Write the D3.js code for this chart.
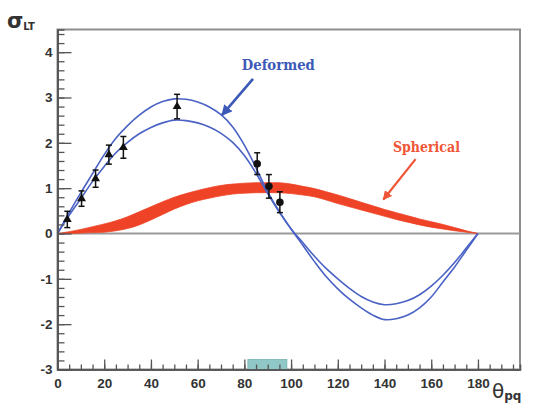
<!DOCTYPE html>
<html>
<head>
<meta charset="utf-8">
<script src="https://cdn.jsdelivr.net/npm/d3@7"></script>
<style>
  html, body { margin: 0; padding: 0; background: #ffffff; }
  svg { display: block; }
  .tick text { font-family: "Liberation Sans", Arial, sans-serif; font-weight: bold; font-size: 13.5px; fill: #333; }
</style>
</head>
<body>
<svg id="chart" width="540" height="405"></svg>
<script>
// Polar angle grid (degrees) shared by the model curves
const theta = [0,5,10,15,20,25,30,35,40,45,50,55,60,65,70,75,80,85,90,
               95,100,105,110,115,120,125,130,135,140,145,150,155,160,165,170,175,180];

// Deformed-nucleus model: two bounding curves
const deformedOuter = [0,0.46,0.90,1.32,1.74,2.10,2.38,2.61,2.79,2.91,2.97,2.96,2.90,2.79,2.62,2.35,1.95,1.45,0.92,
                       0.48,0.10,-0.26,-0.62,-0.95,-1.22,-1.45,-1.64,-1.80,-1.90,-1.88,-1.80,-1.64,-1.40,-1.07,-0.74,-0.37,0];
const deformedInner = [0,0.40,0.77,1.15,1.48,1.78,2.01,2.20,2.34,2.44,2.50,2.49,2.44,2.35,2.21,2.01,1.72,1.33,0.88,
                       0.47,0.10,-0.20,-0.50,-0.77,-1.00,-1.21,-1.39,-1.51,-1.57,-1.55,-1.48,-1.35,-1.16,-0.92,-0.64,-0.32,0];

// Spherical-nucleus model band: upper and lower edges
const sphericalHigh = [0,0.04,0.09,0.15,0.21,0.28,0.37,0.48,0.59,0.70,0.80,0.88,0.95,1.01,1.06,1.09,1.11,1.12,1.12,
                       1.12,1.09,1.04,0.99,0.92,0.85,0.77,0.69,0.61,0.53,0.46,0.39,0.32,0.26,0.20,0.13,0.06,0];
const sphericalLow  = [0,0.00,0.01,0.02,0.03,0.06,0.11,0.19,0.30,0.42,0.54,0.64,0.72,0.78,0.83,0.87,0.89,0.90,0.90,
                       0.90,0.88,0.85,0.81,0.74,0.66,0.59,0.52,0.45,0.38,0.31,0.25,0.19,0.14,0.10,0.06,0.03,0];

// Measured points with statistical errors
const dataTheta  = [4.2, 10.3, 16.3, 22.0, 28.2, 51.2, 85.5, 90.5, 95.2];
const dataSigma  = [0.31, 0.77, 1.21, 1.74, 1.90, 2.80, 1.54, 1.04, 0.69];
const dataError  = [0.18, 0.17, 0.19, 0.21, 0.24, 0.27, 0.24, 0.26, 0.23];
const dataMarker = ["tri","tri","tri","tri","tri","tri","dot","dot","dot"];

// Kinematic acceptance window in theta_pq
const acceptance = [81.5, 98.2];

// Axis ticks
const xMajorTicks = [0,20,40,60,80,100,120,140,160,180];
const yMajorTicks = [-3,-2,-1,0,1,2,3,4];
const xDomain = [0, 198];
const yDomain = [-3, 4.5];

const svg = d3.select("#chart");
const frame = { left: 57.5, right: 520, top: 29.5, bottom: 369.5 };

const x = d3.scaleLinear().domain(xDomain).range([frame.left, frame.right]);
const y = d3.scaleLinear().domain(yDomain).range([frame.bottom, frame.top]);

// Frame (top/right edges lighter)
svg.append("rect")
  .attr("x", frame.left).attr("y", frame.top)
  .attr("width", frame.right - frame.left).attr("height", frame.bottom - frame.top)
  .attr("fill", "#fff").attr("stroke", "#8d8d8d").attr("stroke-width", 2);

// Zero reference line
svg.append("line")
  .attr("x1", x(xDomain[0])).attr("x2", x(xDomain[1]))
  .attr("y1", y(0)).attr("y2", y(0))
  .attr("stroke", "#9a9a9a").attr("stroke-width", 2);

// Spherical band
const band = d3.area()
  .x((d, i) => x(theta[i]))
  .y0((d, i) => y(sphericalLow[i]))
  .y1((d, i) => y(sphericalHigh[i]))
  .curve(d3.curveCatmullRom);
svg.append("path").datum(theta).attr("d", band)
  .attr("fill", "#ee4326").attr("stroke", "#ee4326").attr("stroke-width", 0.8);

// Deformed curves
const line = vals => d3.line()
  .x((d, i) => x(theta[i]))
  .y((d, i) => y(vals[i]))
  .curve(d3.curveCatmullRom)(theta);
[deformedOuter, deformedInner].forEach(vals => {
  svg.append("path").attr("d", line(vals))
    .attr("fill", "none").attr("stroke", "#4a62c4").attr("stroke-width", 1.6);
});

// Data points with error bars
const pts = svg.append("g");
dataTheta.forEach((t, i) => {
  const cx = x(t), cy = y(dataSigma[i]);
  const yt = y(dataSigma[i] + dataError[i]), yb = y(dataSigma[i] - dataError[i]);
  const g = pts.append("g").attr("stroke", "#111").attr("stroke-width", 1.5);
  g.append("line").attr("x1", cx).attr("x2", cx).attr("y1", yt).attr("y2", yb);
  g.append("line").attr("x1", cx - 3).attr("x2", cx + 3).attr("y1", yt).attr("y2", yt);
  g.append("line").attr("x1", cx - 3).attr("x2", cx + 3).attr("y1", yb).attr("y2", yb);
  if (dataMarker[i] === "tri") {
    pts.append("path")
      .attr("d", d3.symbol(d3.symbolTriangle, 34)())
      .attr("transform", `translate(${cx},${cy})`)
      .attr("fill", "#111");
  } else {
    pts.append("circle").attr("cx", cx).attr("cy", cy).attr("r", 3.8).attr("fill", "#111");
  }
});

// Acceptance window marker on the bottom axis
svg.append("rect")
  .attr("x", x(acceptance[0])).attr("width", x(acceptance[1]) - x(acceptance[0]))
  .attr("y", frame.bottom - 10).attr("height", 10)
  .attr("fill", "#90c8c8").attr("stroke", "#74b2b2").attr("stroke-width", 0.8);

// Axes: ticks drawn inside the frame
const axisColor = "#555";
const plain = d => String(d);
function styleAxis(g) {
  g.select(".domain").attr("stroke", axisColor).attr("stroke-width", 1.6);
  g.selectAll(".tick line").attr("stroke", axisColor).attr("stroke-width", 1.3);
}
const yMinor = d3.range(-3, 4.5, 0.2).map(v => +v.toFixed(1));
svg.append("g").attr("transform", `translate(${frame.left},0)`)
  .call(d3.axisLeft(y).tickValues(yMinor).tickSize(-7).tickFormat(""))
  .call(styleAxis);
svg.append("g").attr("transform", `translate(${frame.left},0)`)
  .call(d3.axisLeft(y).tickValues(yMajorTicks).tickSize(-14).tickSizeOuter(0).tickPadding(5).tickFormat(plain))
  .call(styleAxis);

const xMinor = d3.range(0, 198, 5);
svg.append("g").attr("transform", `translate(0,${frame.bottom})`)
  .call(d3.axisBottom(x).tickValues(xMinor).tickSize(-5).tickFormat(""))
  .call(styleAxis);
svg.append("g").attr("transform", `translate(0,${frame.bottom})`)
  .call(d3.axisBottom(x).tickValues(xMajorTicks).tickSize(-10).tickSizeOuter(0).tickPadding(9).tickFormat(plain))
  .call(styleAxis);

// Axis titles
const yTitle = svg.append("text").attr("x", 7).attr("y", 28)
  .attr("fill", "#333").attr("font-family", "DejaVu Sans, sans-serif").attr("font-weight", "bold");
yTitle.append("tspan").attr("font-size", "21px").text("σ");
yTitle.append("tspan").attr("font-size", "10px").attr("dy", 2).text("LT");

const xTitle = svg.append("text").attr("x", 492).attr("y", 398)
  .attr("fill", "#333").attr("font-family", "DejaVu Sans, sans-serif");
xTitle.append("tspan").attr("font-size", "20px").text("θ");
xTitle.append("tspan").attr("font-size", "12px").attr("font-weight", "bold").attr("dy", 2).text("pq");

// Annotations
const notes = [
  { text: "Deformed",  color: "#3d59b8", tx: 78.9, ty: 3.61, width: 73, from: [83.7, 3.41], to: [70.4, 2.61], lw: 2.6 },
  { text: "Spherical", color: "#ef5536", tx: 143.6, ty: 1.80, width: 67, from: [153.3, 1.64], to: [139.5, 0.75], lw: 2.2 }
];
const defs = svg.append("defs");
notes.forEach((n, i) => {
  defs.append("marker").attr("id", "head" + i)
    .attr("viewBox", "0 0 10 10").attr("refX", 9).attr("refY", 5)
    .attr("markerWidth", 4.2).attr("markerHeight", 4.2).attr("orient", "auto")
    .append("path").attr("d", "M0,0 L10,5 L0,10 Z").attr("fill", n.color);
  svg.append("text").attr("x", x(n.tx)).attr("y", y(n.ty))
    .attr("font-family", "DejaVu Serif, serif").attr("font-size", "15px").attr("font-weight", "bold")
    .attr("textLength", n.width).attr("lengthAdjust", "spacingAndGlyphs")
    .attr("fill", n.color).text(n.text);
  svg.append("line")
    .attr("x1", x(n.from[0])).attr("y1", y(n.from[1]))
    .attr("x2", x(n.to[0])).attr("y2", y(n.to[1]))
    .attr("stroke", n.color).attr("stroke-width", n.lw)
    .attr("marker-end", `url(#head${i})`);
});
</script>
</body>
</html>
